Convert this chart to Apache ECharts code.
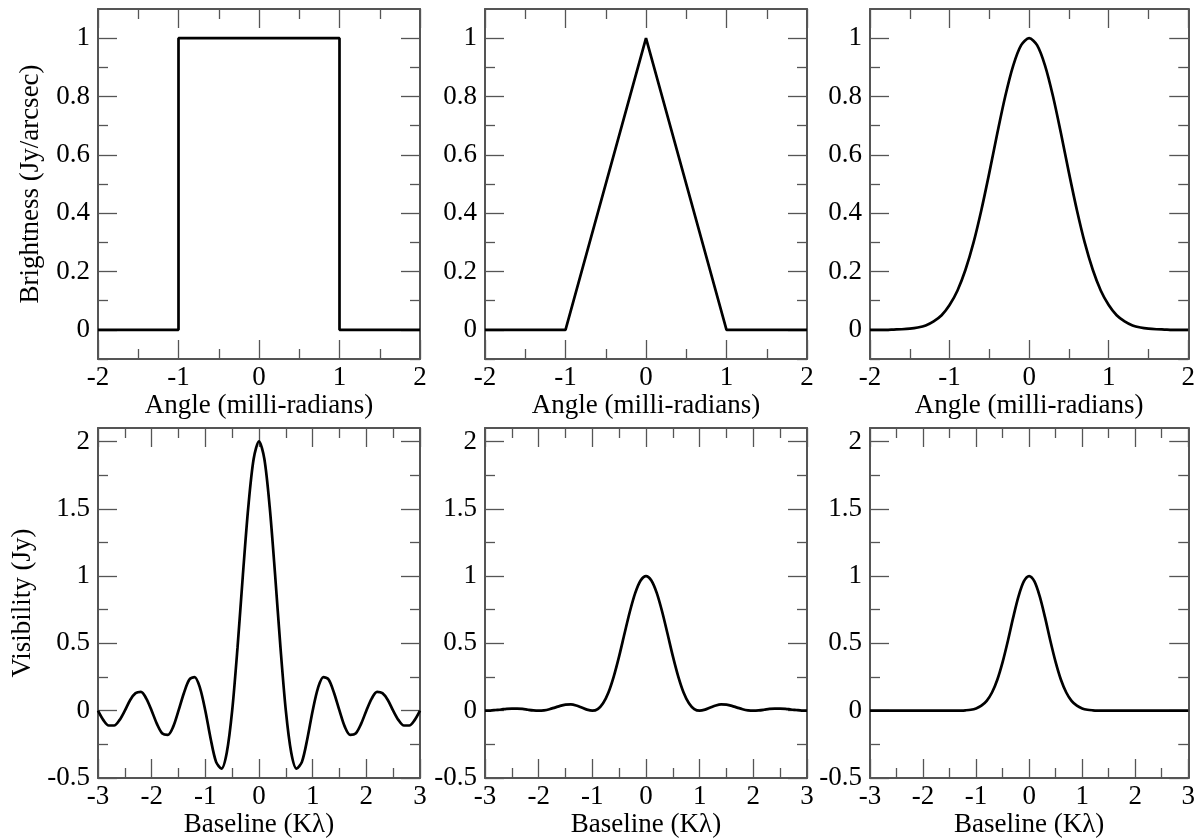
<!DOCTYPE html>
<html>
<head>
<meta charset="utf-8">
<title>Brightness and visibility</title>
<script src="https://cdn.jsdelivr.net/npm/echarts@6/dist/echarts.min.js"></script>
<style>
	body { margin: 0; background: #fff; }
	#chart { width: 1198px; height: 839px; }
</style>
</head>
<body>
<div id="chart"></div>
<script>
// sample positions
const angleX = [-2.0,-1.9,-1.8,-1.7,-1.6,-1.5,-1.4,-1.3,-1.2,-1.1,-1.0,-0.9,-0.8,-0.7,-0.6,-0.5,-0.4,-0.3,-0.2,-0.1,
	0.0,0.1,0.2,0.3,0.4,0.5,0.6,0.7,0.8,0.9,1.0,1.1,1.2,1.3,1.4,1.5,1.6,1.7,1.8,1.9,2.0];
const baselineX = [-3.0,-2.9,-2.8,-2.7,-2.6,-2.5,-2.4,-2.3,-2.2,-2.1,-2.0,-1.9,-1.8,-1.7,-1.6,-1.5,-1.4,-1.3,-1.2,-1.1,
	-1.0,-0.9,-0.8,-0.7,-0.6,-0.5,-0.4,-0.3,-0.2,-0.1,0.0,0.1,0.2,0.3,0.4,0.5,0.6,0.7,0.8,0.9,
	1.0,1.1,1.2,1.3,1.4,1.5,1.6,1.7,1.8,1.9,2.0,2.1,2.2,2.3,2.4,2.5,2.6,2.7,2.8,2.9,3.0];

// top row: brightness
const boxX = [-2, -1, -1, 1, 1, 2];
const boxY = [0, 0, 1, 1, 0, 0];
const triX = [-2, -1, 0, 1, 2];
const triY = [0, 0, 1, 0, 0];
const gaussBright = [0,0,0,0.001,0.002,0.004,0.008,0.015,0.029,0.050,0.085,0.135,0.206,0.298,0.411,0.539,0.674,0.801,0.906,0.976,
	1,0.976,0.906,0.801,0.674,0.539,0.411,0.298,0.206,0.135,0.085,0.050,0.029,0.015,0.008,0.004,0.002,0.001,0,0,0];

// bottom row: visibility
const boxVis = [0,-0.07,-0.11,-0.11,-0.07,0,0.08,0.13,0.14,0.09,0,-0.10,-0.17,-0.18,-0.12,0,0.13,0.23,0.25,0.17,
	0,-0.21,-0.38,-0.43,-0.31,0,0.47,1.01,1.51,1.87,2.00,1.87,1.51,1.01,0.47,0,-0.31,-0.43,-0.38,-0.21,
	0,0.17,0.25,0.23,0.13,0,-0.12,-0.18,-0.17,-0.10,0,0.09,0.14,0.13,0.08,0,-0.07,-0.11,-0.11,-0.07,0];
const triVis = [0,0.001,0.005,0.009,0.014,0.016,0.016,0.013,0.007,0.002,0,0.003,0.011,0.023,0.036,0.045,0.047,0.039,0.024,0.008,
	0,0.012,0.055,0.135,0.255,0.405,0.573,0.737,0.875,0.967,1,0.967,0.875,0.737,0.573,0.405,0.255,0.135,0.055,0.012,
	0,0.008,0.024,0.039,0.047,0.045,0.036,0.023,0.011,0.003,0,0.002,0.007,0.013,0.016,0.016,0.014,0.009,0.005,0.001,0];
const gaussVis = [0,0,0,0,0,0,0,0,0,0,0,0,0,0,0,0,0,0.001,0.003,0.007,
	0.017,0.037,0.073,0.135,0.230,0.361,0.520,0.693,0.849,0.960,1,0.960,0.849,0.693,0.520,0.361,0.230,0.135,0.073,0.037,
	0.017,0.007,0.003,0.001,0,0,0,0,0,0,0,0,0,0,0,0,0,0,0,0,0];

// ticks
const angleMajor = [-2, -1, 0, 1, 2];
const angleMinor = [-1.5, -0.5, 0.5, 1.5];
const baseMajor = [-3, -2, -1, 0, 1, 2, 3];
const baseMinor = [-2.5, -1.5, -0.5, 0.5, 1.5, 2.5];
const brightMajor = [0, 0.2, 0.4, 0.6, 0.8, 1];
const brightMinor = [-0.1, 0.1, 0.3, 0.5, 0.7, 0.9];
const visMajor = [-0.5, 0, 0.5, 1, 1.5, 2];
const visMinor = [-0.25, 0.25, 0.75, 1.25, 1.75];

const FONT = 'Liberation Serif';
const FONT_SIZE = 27;
const AXIS_COLOR = '#555';

const panels = [
	{ left: 98, top: 9, xr: [-2, 2], yr: [-0.1, 1.1], xt: [angleMajor, angleMinor], yt: [brightMajor, brightMinor],
		xName: 'Angle (milli-radians)', yName: 'Brightness (Jy/arcsec)', yGap: 54, x: boxX, y: boxY, smooth: false },
	{ left: 485, top: 9, xr: [-2, 2], yr: [-0.1, 1.1], xt: [angleMajor, angleMinor], yt: [brightMajor, brightMinor],
		xName: 'Angle (milli-radians)', yName: '', x: triX, y: triY, smooth: false },
	{ left: 870, top: 9, xr: [-2, 2], yr: [-0.1, 1.1], xt: [angleMajor, angleMinor], yt: [brightMajor, brightMinor],
		xName: 'Angle (milli-radians)', yName: '', x: angleX, y: gaussBright, smooth: true },
	{ left: 98, top: 428, xr: [-3, 3], yr: [-0.5, 2.1], xt: [baseMajor, baseMinor], yt: [visMajor, visMinor],
		xName: 'Baseline (Kλ)', yName: 'Visibility (Jy)', yGap: 62, x: baselineX, y: boxVis, smooth: true },
	{ left: 485, top: 428, xr: [-3, 3], yr: [-0.5, 2.1], xt: [baseMajor, baseMinor], yt: [visMajor, visMinor],
		xName: 'Baseline (Kλ)', yName: '', x: baselineX, y: triVis, smooth: true },
	{ left: 870, top: 428, xr: [-3, 3], yr: [-0.5, 2.1], xt: [baseMajor, baseMinor], yt: [visMajor, visMinor],
		xName: 'Baseline (Kλ)', yName: '', x: baselineX, y: gaussVis, smooth: true },
];

function makeAxes(dim, gi, range, ticks, name, nameGap) {
	const sides = dim === 'x' ? ['bottom', 'top'] : ['left', 'right'];
	const axes = [];
	sides.forEach((pos, s) => {
		[0, 1].forEach(k => {
			const main = s === 0 && k === 0;
			axes.push({
				type: 'value',
				gridIndex: gi,
				position: pos,
				min: range[0],
				max: range[1],
				name: main ? name : '',
				nameLocation: 'middle',
				nameGap: nameGap,
				nameTextStyle: { fontFamily: FONT, fontSize: FONT_SIZE, color: '#000' },
				axisLine: { show: k === 0, onZero: false, lineStyle: { color: AXIS_COLOR, width: 2 } },
				axisTick: {
					show: true, inside: true, length: k === 0 ? 19 : 10,
					customValues: ticks[k],
					lineStyle: { color: AXIS_COLOR, width: 1.3 }
				},
				axisLabel: {
					show: main, customValues: ticks[0],
					fontFamily: FONT, fontSize: FONT_SIZE, color: '#000',
					margin: dim === 'x' ? 5 : 8
				},
				splitLine: { show: false }
			});
		});
	});
	return axes;
}

const grid = [], xAxis = [], yAxis = [], series = [];
panels.forEach((p, i) => {
	grid.push({ left: p.left, top: p.top, width: 322, height: 350 });
	xAxis.push(...makeAxes('x', i, p.xr, p.xt, p.xName, 33));
	yAxis.push(...makeAxes('y', i, p.yr, p.yt, p.yName, p.yGap || 50));
	series.push({
		type: 'line',
		xAxisIndex: i * 4,
		yAxisIndex: i * 4,
		data: p.x.map((v, j) => [v, p.y[j]]),
		smooth: p.smooth ? 0.3 : false,
		showSymbol: false,
		lineStyle: { color: '#000', width: 2.7 },
		silent: true,
		animation: false
	});
});

const chart = echarts.init(document.getElementById('chart'));
chart.setOption({
	backgroundColor: '#fff',
	animation: false,
	grid: grid,
	xAxis: xAxis,
	yAxis: yAxis,
	series: series
});
</script>
</body>
</html>
